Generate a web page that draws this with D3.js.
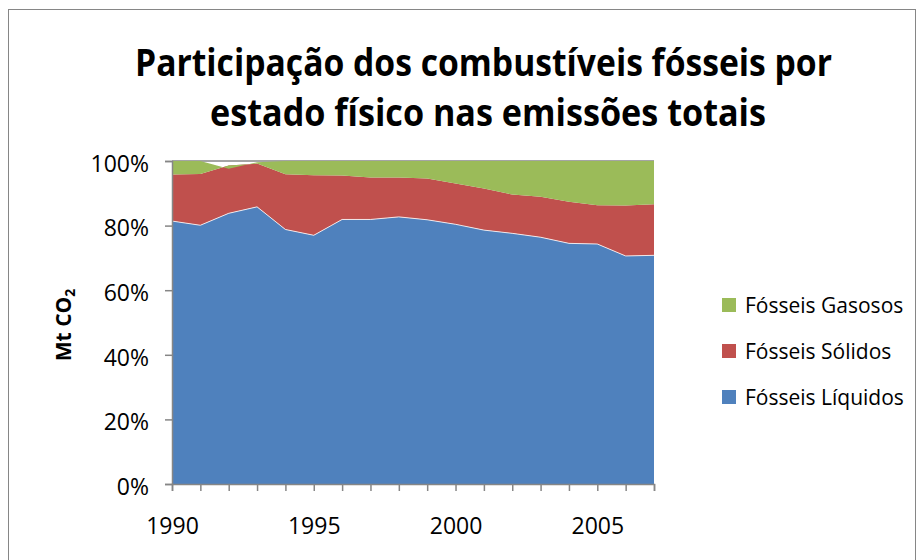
<!DOCTYPE html>
<html>
<head>
<meta charset="utf-8">
<script src="https://cdn.jsdelivr.net/npm/d3@7"></script>
<style>
  body { margin: 0; background: #fff; }
  svg text { font-family: "Open Sans", "Noto Sans", sans-serif; fill: #000; }
</style>
</head>
<body>
<div id="chart-container"></div>
<script>
// data (percent of total)
var years = [1990, 1991, 1992, 1993, 1994, 1995, 1996, 1997, 1998,
             1999, 2000, 2001, 2002, 2003, 2004, 2005, 2006, 2007];
var liquidos = [81.4, 80.1, 83.8, 85.8, 78.8, 77.0, 81.9, 81.9, 82.7,
                81.8, 80.4, 78.6, 77.6, 76.4, 74.5, 74.3, 70.6, 70.8];
var solidos = [14.4, 15.9, 14.8, 13.4, 17.1, 18.6, 13.6, 13.0, 12.2,
               12.8, 12.6, 12.9, 12.0, 12.5, 12.9, 12.0, 15.6, 15.8];
var gasosos = [4.2, 4.0, -1.0, 0.4, 4.1, 4.4, 4.5, 5.1, 5.1,
               5.4, 7.0, 8.5, 10.4, 11.1, 12.6, 13.7, 13.8, 13.4];
var seriesNames = ["Fósseis Líquidos", "Fósseis Sólidos", "Fósseis Gasosos"];
var seriesColors = ["#4f81bd", "#c0504d", "#9bbb59"];
var yTicks = [0, 20, 40, 60, 80, 100];
var xLabels = [1990, 1995, 2000, 2005];

function drawChart() {
    var W = 922, H = 560;
    var plotLeft = 172, plotRight = 654, plotTop = 161, plotBottom = 484;

    var svg = d3.select("#chart-container")
        .append("svg")
        .attr("width", W)
        .attr("height", H);

    // chart border
    svg.append("rect")
        .attr("x", 8.5)
        .attr("y", 9.5)
        .attr("width", 907)
        .attr("height", 580)
        .attr("fill", "#fff")
        .attr("stroke", "#868686")
        .attr("stroke-width", 1);

    // title
    var title = svg.append("text")
        .attr("text-anchor", "middle")
        .style("font-size", "38px")
        .style("font-weight", "bold");
    title.append("tspan").attr("x", 483.5).attr("y", 76)
        .attr("textLength", 697).attr("lengthAdjust", "spacingAndGlyphs")
        .text("Participação dos combustíveis fósseis por");
    title.append("tspan").attr("x", 488).attr("y", 126)
        .attr("textLength", 556).attr("lengthAdjust", "spacingAndGlyphs")
        .text("estado físico nas emissões totais");

    var x = d3.scaleLinear().domain([1990, 2007]).range([plotLeft, plotRight]);
    var y = d3.scaleLinear().domain([0, 100]).range([plotBottom, plotTop]);

    // gridlines (only the top one ends up visible)
    svg.append("g")
        .selectAll("line")
        .data(yTicks)
        .enter().append("line")
        .attr("x1", plotLeft).attr("x2", plotRight)
        .attr("y1", function(d) { return y(d); })
        .attr("y2", function(d) { return y(d); })
        .attr("stroke", "#868686")
        .attr("stroke-width", 1.5);

    var table = years.map(function(yr, i) {
        var row = { year: yr };
        row[seriesNames[0]] = liquidos[i];
        row[seriesNames[1]] = solidos[i];
        row[seriesNames[2]] = gasosos[i];
        return row;
    });

    var stacked = d3.stack().keys(seriesNames)(table);

    var area = d3.area()
        .x(function(d) { return x(d.data.year); })
        .y0(function(d) { return y(d[0]); })
        .y1(function(d) { return y(d[1]); });

    svg.append("g")
        .selectAll("path")
        .data(stacked)
        .enter().append("path")
        .attr("fill", function(d, i) { return seriesColors[i]; })
        .attr("d", area);

    // thin white edge on top of the liquid series
    svg.append("path")
        .datum(stacked[0])
        .attr("fill", "none")
        .attr("stroke", "#fff")
        .attr("stroke-opacity", 0.8)
        .attr("stroke-width", 1)
        .attr("d", d3.line()
            .x(function(d) { return x(d.data.year); })
            .y(function(d) { return y(d[1]); }));

    // axes
    var yAxis = d3.axisLeft(y)
        .tickValues(yTicks)
        .tickFormat(function(d) { return d + "%"; })
        .tickSize(7)
        .tickPadding(16);

    svg.append("g")
        .attr("class", "y-axis")
        .attr("transform", "translate(" + plotLeft + ",0)")
        .call(yAxis);

    var xAxis = d3.axisBottom(x)
        .tickValues(years)
        .tickFormat(function(d) { return xLabels.indexOf(d) >= 0 ? d : ""; })
        .tickSize(7)
        .tickPadding(27);

    svg.append("g")
        .attr("class", "x-axis")
        .attr("transform", "translate(0," + plotBottom + ")")
        .call(xAxis);

    svg.selectAll(".x-axis path, .y-axis path, .x-axis line, .y-axis line")
        .attr("stroke", "#868686")
        .attr("stroke-width", 1.5);
    svg.selectAll(".x-axis text, .y-axis text")
        .style("font-size", "23px")
        .style("font-family", "'Open Sans', sans-serif")
        .attr("fill", "#000");
    svg.selectAll(".y-axis text").attr("dy", "0.45em");

    // y axis title
    var yTitle = svg.append("text")
        .attr("transform", "translate(71,325) rotate(-90)")
        .attr("text-anchor", "middle")
        .style("font-size", "21px")
        .style("font-weight", "bold");
    yTitle.append("tspan").text("Mt CO");
    yTitle.append("tspan").attr("dy", 4).style("font-size", "14px").text("2");

    // legend (gas on top)
    var legendItems = [2, 1, 0];
    var legend = svg.append("g")
        .selectAll("g")
        .data(legendItems)
        .enter().append("g")
        .attr("transform", function(d, i) { return "translate(722," + (305 + i * 46) + ")"; });

    legend.append("rect")
        .attr("x", 0).attr("y", -7)
        .attr("width", 14).attr("height", 14)
        .attr("fill", function(d) { return seriesColors[d]; });

    legend.append("text")
        .attr("x", 23)
        .attr("y", 7.5)
        .style("font-size", "21px")
        .text(function(d) { return seriesNames[d]; });
}

drawChart();
</script>
</body>
</html>
